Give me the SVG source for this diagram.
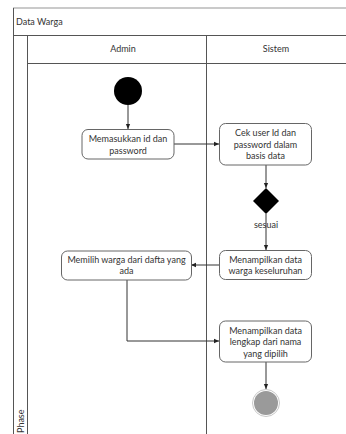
<svg xmlns="http://www.w3.org/2000/svg" width="346" height="434" viewBox="0 0 346 434">
  <style>
    .frame { fill: none; stroke: #555; stroke-width: 1; }
    .frame-top { fill: none; stroke: #b8b8b8; stroke-width: 1.5; }
    .lbl { font-family: Lato, "Liberation Sans", sans-serif; font-size: 9px; fill: #333; }
    .act { fill: #fff; stroke: #666; stroke-width: 1; }
    .edge { fill: none; stroke: #333; stroke-width: 1; }
  </style>
  <defs>
    <marker id="arrow" viewBox="0 0 8 8" refX="7" refY="4" markerWidth="6" markerHeight="6" orient="auto" markerUnits="userSpaceOnUse">
      <path d="M0,1 L7,4 L0,7 Z" fill="#222"/>
    </marker>
  </defs>

  <rect width="346" height="434" fill="#fff"/>

  <!-- pool and swimlanes -->
  <g id="pool">
    <line class="frame-top" x1="13" y1="8" x2="346" y2="8"/>
    <line class="frame" x1="13.5" y1="8" x2="13.5" y2="434"/>
    <line class="frame" x1="13" y1="35.5" x2="346" y2="35.5"/>
    <line class="frame" x1="27.5" y1="35" x2="27.5" y2="434"/>
    <line class="frame" x1="27" y1="63.5" x2="346" y2="63.5"/>
    <line class="frame" x1="206.5" y1="35" x2="206.5" y2="434"/>
    <text class="lbl" x="16" y="25">Data Warga</text>
    <text class="lbl" x="123" y="52" text-anchor="middle">Admin</text>
    <text class="lbl" x="276" y="52" text-anchor="middle">Sistem</text>
    <text class="lbl" font-size="7.5px" transform="translate(23.5,433) rotate(-90)">Phase</text>
  </g>

  <!-- connectors -->
  <g id="connectors">
    <line class="edge" x1="128" y1="105" x2="128" y2="129" marker-end="url(#arrow)"/>
    <line class="edge" x1="174" y1="144" x2="219" y2="144" marker-end="url(#arrow)"/>
    <line class="edge" x1="266" y1="165" x2="266" y2="188" marker-end="url(#arrow)"/>
    <line class="edge" x1="266" y1="214" x2="266" y2="250" marker-end="url(#arrow)"/>
    <line class="edge" x1="219" y1="265" x2="191" y2="265" marker-end="url(#arrow)"/>
    <polyline class="edge" points="127,280 127,341 219,341" marker-end="url(#arrow)"/>
    <line class="edge" x1="266" y1="362" x2="266" y2="389" marker-end="url(#arrow)"/>
  </g>

  <g id="start">
    <circle cx="128" cy="91" r="14" fill="#000"/>
  </g>

  <g id="masukkan-id">
    <rect class="act" x="82" y="129.5" width="92" height="29.5" rx="6"/>
    <text class="lbl" x="128" y="142" text-anchor="middle">Memasukkan id dan</text>
    <text class="lbl" x="128" y="153.5" text-anchor="middle">password</text>
  </g>

  <g id="cek-user">
    <rect class="act" x="219.5" y="123.5" width="92" height="41.5" rx="6"/>
    <text class="lbl" x="265.5" y="136" text-anchor="middle">Cek user Id dan</text>
    <text class="lbl" x="265.5" y="147.5" text-anchor="middle">password dalam</text>
    <text class="lbl" x="265.5" y="159" text-anchor="middle">basis data</text>
  </g>

  <g id="keputusan">
    <polygon points="266,188 279,201 266,214 253,201" fill="#000"/>
    <text class="lbl" x="266" y="228" text-anchor="middle">sesuai</text>
  </g>

  <g id="tampil-keseluruhan">
    <rect class="act" x="219.5" y="250.5" width="92" height="29" rx="6"/>
    <text class="lbl" x="265.5" y="262.5" text-anchor="middle">Menampilkan data</text>
    <text class="lbl" x="265.5" y="274" text-anchor="middle">warga keseluruhan</text>
  </g>

  <g id="pilih-warga">
    <rect class="act" x="61.5" y="251" width="130" height="29" rx="6"/>
    <text class="lbl" x="126.5" y="262.5" text-anchor="middle">Memilih warga dari dafta yang</text>
    <text class="lbl" x="126.5" y="274" text-anchor="middle">ada</text>
  </g>

  <g id="tampil-lengkap">
    <rect class="act" x="219.5" y="321" width="92" height="41" rx="6"/>
    <text class="lbl" x="265.5" y="333.5" text-anchor="middle">Menampilkan data</text>
    <text class="lbl" x="265.5" y="345" text-anchor="middle">lengkap dari nama</text>
    <text class="lbl" x="265.5" y="356.5" text-anchor="middle">yang dipilih</text>
  </g>

  <g id="end">
    <circle cx="266" cy="403" r="13.5" fill="#fff" stroke="#c8c8c8" stroke-width="1"/>
    <circle cx="266" cy="403" r="12" fill="#9a9a9a"/>
  </g>
</svg>
